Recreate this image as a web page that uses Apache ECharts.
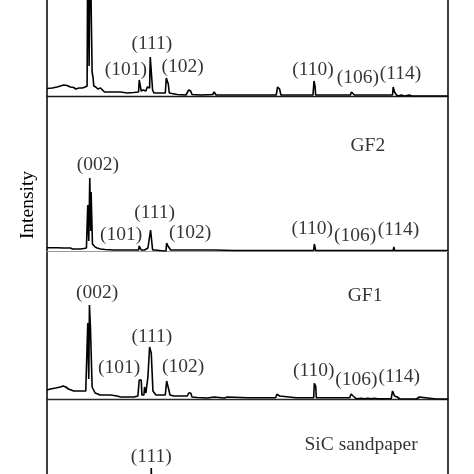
<!DOCTYPE html>
<html><head><meta charset="utf-8">
<script src="https://cdn.jsdelivr.net/npm/echarts@6/dist/echarts.min.js"></script>
<style>html,body{margin:0;padding:0;background:#fff}#c{width:474px;height:474px}</style>
</head><body><div id="c"></div>
<script>
// 2θ (deg) vs intensity (a.u.) for each sample, stacked panels (top to bottom)
const sampleNames = ['GF3', 'GF2', 'GF1', 'SiC sandpaper'];
const gf3 = [[20.0,7.5],[20.8,8],[21.5,9],[22.0,10],[22.5,11],[23.0,10.5],[23.5,9],[24.0,8.5],[24.3,7],[24.8,8],[25.3,8],[25.7,9],[26.0,10],
[26.1,160],[26.2,160],[26.3,30],[26.45,160],[26.65,160],[26.75,24],[26.9,18],[27.0,10],[27.3,9],[27.6,7],[28.0,8],[28.3,6],[28.6,4],[29.5,4],[31.0,4],[32.0,3],[33.0,3.5],[33.7,4],
[33.8,16],[34.05,16],[34.1,5],[34.4,6],[34.6,8],[34.8,5],[35.0,9],[35.2,11],[35.35,8],[35.45,39],[35.7,39],[35.8,6],[36.0,3],[37.0,3],[37.7,3],[37.85,18],[38.0,18],[38.15,12],[38.3,3],[39.5,1.5],[40.8,1],[41.2,6],[41.5,5],[41.7,1.5],[43.0,1],[44.8,1.5],[45.0,4],[45.3,1],[50,1],[54.3,1],[54.5,9],[54.8,7],[55.0,1],[59.8,1],[59.95,15],[60.1,10],[60.2,1],[65.4,1],[65.55,4],[65.8,2],[66.0,1],[71.7,1],[71.8,9],[72.0,4],[72.3,1],[72.6,0],[73.0,1],[73.5,0],[74.2,1],[74.6,0],[75.5,0],[80,0]];
const gf2 = [[20.0,3.3],[21.5,3.3],[22.5,3],[23.5,3],[23.8,2],[25.0,2],[25.5,2.5],[25.9,3],[26.0,3],
[26.1,46],[26.2,46],[26.25,10],[26.4,73],[26.5,73],[26.55,20],[26.6,59],[26.75,59],[26.8,7],[27.0,6],[27.2,4],[27.5,3],[28.0,2],[28.7,1.5],[30,1],[33.7,1],[33.8,5],[34.0,5],[34.1,1],[34.6,1],[34.7,3],[34.8,1],[35.1,3],[35.3,1],[35.5,21],[35.7,21],[35.8,1],[36.2,1],[37.5,0],[37.8,0],[37.9,8],[38.0,8],[38.1,5],[38.3,3],[38.5,1],[40,1],[41.3,1],[41.4,2.5],[41.5,1],[43.0,1],[43.1,2.5],[43.2,1],[45.0,1],[45.1,2.5],[45.2,1],[48,0.5],[54.5,0.5],[54.6,2],[54.8,0.5],[59.9,0.5],[60.0,7],[60.1,4],[60.2,0.5],[65.5,0.5],[65.6,2],[65.7,0.5],[71.8,0.5],[71.9,4],[72.0,0.5],[80,0.5]];
const gf1 = [[20.0,9],[20.5,10],[21.3,11],[22.0,12],[22.4,13],[22.8,12],[23.2,10],[23.6,9],[24.0,8],[25.0,8],[25.8,8],[26.0,10],
[26.1,76],[26.2,76],[26.25,20],[26.35,94],[26.45,94],[26.5,72],[26.7,72],[26.75,12],[26.9,12],[27.2,6],[27.6,5],[27.9,4],[29.5,4],[30.5,3],[31.0,2],[33.0,2],[33.6,3],[33.8,19],[34.1,19],[34.2,4],[34.5,4],[34.6,12],[34.8,6],[35.0,6],[35.1,22],[35.3,22],[35.35,52],[35.55,52],[35.6,46],[35.75,46],[35.85,8],[36.3,4],[37.0,4],[37.7,4],[37.9,18],[38.05,18],[38.2,10],[38.4,4],[39.0,3],[41.0,3],[41.2,6],[41.5,6],[41.7,2],[42.5,1.5],[44.0,1],[45.0,2],[45.2,1],[46.5,1],[47,2],[47.2,1],[50,1.3],[54.2,1.3],[54.4,4.7],[54.8,3],[55.0,1.3],[57.3,1.3],[57.4,3],[57.5,1.3],[59.9,1.3],[60.0,15.7],[60.2,13],[60.3,1.3],[65.3,1.3],[65.5,5],[65.8,3],[66.0,1],[66.3,0.2],[67,0.8],[67.5,0.2],[68,0.8],[68.5,0.2],[69,0.8],[69.5,0.2],[70.5,0.2],[71.5,0.5],[71.7,8],[71.9,8],[72.0,3],[72.4,2],[72.8,0],[74.5,0],[75.3,0],[75.4,2],[75.7,2],[75.8,0],[78.2,0],[78.3,2],[78.5,0],[80,0]];
const sic = [[20,2],[30,2],[34,2],[35.5,3],[35.6,81],[35.75,81],[35.85,3],[40,2],[60,2],[80,2]];
const traces = [gf3, gf2, gf1, sic];
// peak labels: [2θ, intensity, text]
const labels3 = [[31.8,26,'(101)'],[35.7,52,'(111)'],[40.3,29,'(102)'],[59.8,26,'(110)'],[66.5,18,'(106)'],[72.9,22.5,'(114)']];
const labels2 = [[27.6,86,'(002)'],[31.1,16.5,'(101)'],[36.1,38.5,'(111)'],[41.4,18.5,'(102)'],[59.7,22,'(110)'],[66.1,15.5,'(106)'],[72.6,21.5,'(114)'],[68.0,105,'GF2']];
const labels1 = [[27.5,106.5,'(002)'],[30.8,31,'(101)'],[35.7,62.5,'(111)'],[40.35,32,'(102)'],[59.9,28.5,'(110)'],[66.3,19.5,'(106)'],[72.7,22,'(114)'],[67.6,103.5,'GF1']];
const labels0 = [[35.6,92.5,'(111)'],[67.0,104.5,'SiC sandpaper']];
const labelSets = [labels3, labels2, labels1, labels0];

const panels = [
  {top:-54, height:150, bottomColor:'#1a1a1a', bottomWidth:1.4},
  {top:96, height:155, bottomColor:'#9a9a9a', bottomWidth:1},
  {top:251, height:148, bottomColor:'#2a2a2a', bottomWidth:1.3},
  {top:399, height:150, bottomColor:'#2a2a2a', bottomWidth:1.3}
];
const FONT = '"Liberation Serif","DejaVu Serif",serif';
const grid=[], xAxis=[], yAxis=[], series=[];
panels.forEach((p,i)=>{
  grid.push({left:47, right:26, top:p.top, height:p.height, outerBoundsMode:'none', containLabel:false});
  xAxis.push({type:'value', gridIndex:i, min:20, max:80, axisLine:{show:true, onZero:false, lineStyle:{color:p.bottomColor, width:p.bottomWidth}}, axisTick:{show:false}, axisLabel:{show:false}, splitLine:{show:false}});
  yAxis.push({type:'value', gridIndex:i, min:0, max:p.height, position:'left', axisLine:{show:true, lineStyle:{color:'#2a2a2a', width:1.8}}, axisTick:{show:false}, axisLabel:{show:false}, splitLine:{show:false}});
  yAxis.push({type:'value', gridIndex:i, min:0, max:p.height, position:'right', axisLine:{show:true, lineStyle:{color:'#2a2a2a', width:1.8}}, axisTick:{show:false}, axisLabel:{show:false}, splitLine:{show:false}});
  series.push({type:'line', name:sampleNames[i], xAxisIndex:i, yAxisIndex:2*i, data:traces[i], showSymbol:false, symbol:'none', clip:true, animation:false, lineStyle:{color:'#000', width:1.6}});
  series.push({type:'scatter', xAxisIndex:i, yAxisIndex:2*i, symbolSize:0, animation:false, silent:true, clip:false,
    data: labelSets[i].map(d=>({value:[d[0],d[1]], name:d[2]})),
    label:{show:true, position:'inside', formatter:'{b}', color:'#000', fontFamily:FONT, fontSize:19.5}});
});
const chart = echarts.init(document.getElementById('c'), null, {renderer:'canvas'});
chart.setOption({
  animation:false,
  backgroundColor:'#fff',
  grid, xAxis, yAxis, series,
  graphic:[{type:'text', x:28, y:205, rotation:Math.PI/2, style:{text:'Intensity', fill:'#000', font:'19.5px "Liberation Serif", serif', textAlign:'center', textVerticalAlign:'middle'}}]
});
</script></body></html>
